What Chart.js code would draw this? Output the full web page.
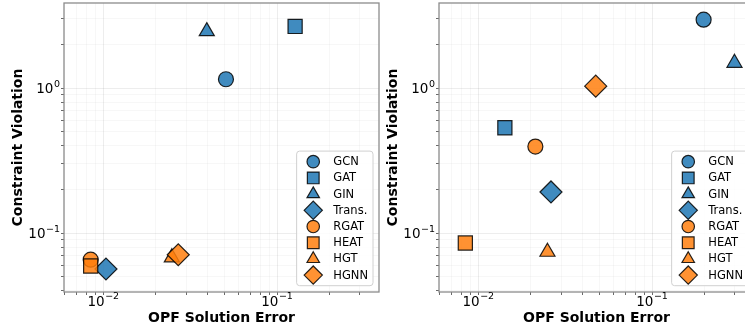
<!DOCTYPE html>
<html>
<head>
<meta charset="utf-8">
<script src="https://cdn.jsdelivr.net/npm/chart.js@4.4.1/dist/chart.umd.min.js"></script>
<style>
  html, body { margin: 0; padding: 0; background: #fff; overflow: hidden; }
  #wrap { position: relative; width: 745px; height: 333px; overflow: hidden; }
  canvas { position: absolute; top: 0; }
  #left { left: 0; }
  #right { left: 375px; }
</style>
</head>
<body>
<div id="wrap">
  <canvas id="left" width="380" height="333"></canvas>
  <canvas id="right" width="380" height="333"></canvas>
</div>
<script>
// model names, one per marker
const models = ['GCN', 'GAT', 'GIN', 'Trans.', 'RGAT', 'HEAT', 'HGT', 'HGNN'];

// left panel: OPF solution error vs constraint violation
const leftError = [0.0508, 0.127, 0.0394, 0.01036, 0.00846, 0.00846, 0.0248, 0.0270];
const leftViolation = [1.15, 2.66, 2.46, 0.0565, 0.0655, 0.0592, 0.0678, 0.0708];

// right panel
const rightError = [0.198, 0.01422, 0.298, 0.0262, 0.0213, 0.00842, 0.0250, 0.0474];
const rightViolation = [2.96, 0.532, 1.49, 0.192, 0.395, 0.0853, 0.0741, 1.03];

// axis ticks (base 10, labelled by exponent)
const xTickValues = [0.01, 0.1];
const xTickExponents = ['\u22122', '\u22121'];
const yTickValues = [0.1, 1];
const yTickExponents = ['\u22121', '0'];

// styles
const blue = 'rgba(31, 119, 180, 0.85)';
const orange = 'rgba(255, 127, 14, 0.85)';
const colors = [blue, blue, blue, blue, orange, orange, orange, orange];
const shapes = ['circle', 'rect', 'triangle', 'rectRot', 'circle', 'rect', 'triangle', 'rectRot'];
const sizes = { circle: 7.5, rect: 10, triangle: 8.7, rectRot: 11 };
const edge = 'rgba(0, 0, 0, 0.85)';

const xRange = [0.00594, 0.386];
const yRange = [0.0392, 3.86];

const tickFont = '"DejaVu Sans"';
const baseSize = 13.5;
const expSize = 9.5;

function logTicks(min, max) {
  const out = [];
  for (let k = Math.floor(Math.log10(min)); k <= Math.ceil(Math.log10(max)); k++) {
    for (let m = 1; m <= 9; m++) {
      const v = m * Math.pow(10, k);
      if (v >= min && v <= max) out.push(v);
    }
  }
  return out;
}

function isMajor(value) {
  const l = Math.log10(value);
  return Math.abs(l - Math.round(l)) < 1e-6;
}

const framePlugin = {
  id: 'frame',
  beforeDatasetsDraw(chart) {
    const a = chart.chartArea;
    const ctx = chart.ctx;
    ctx.save();
    ctx.strokeStyle = '#8c8c8c';
    ctx.lineWidth = 1.3;
    ctx.strokeRect(a.left, a.top, a.right - a.left, a.bottom - a.top);
    ctx.restore();
  }
};

// draws "10" with a raised exponent, like a power-of-ten tick label
function powerLabel(ctx, exp, x, y, align) {
  ctx.font = baseSize + 'px ' + tickFont;
  const wBase = ctx.measureText('10').width;
  ctx.font = expSize + 'px ' + tickFont;
  const wExp = ctx.measureText(exp).width;
  const total = wBase + 0.5 + wExp;
  let start = x;
  if (align === 'center') start = x - total / 2;
  if (align === 'right') start = x - total;
  ctx.fillStyle = '#000';
  ctx.textAlign = 'left';
  ctx.textBaseline = 'alphabetic';
  ctx.font = baseSize + 'px ' + tickFont;
  ctx.fillText('10', start, y);
  ctx.font = expSize + 'px ' + tickFont;
  ctx.fillText(exp, start + wBase + 0.5, y - 6.2);
}

const powerTicks = {
  id: 'powerTicks',
  afterDraw(chart) {
    const ctx = chart.ctx;
    const a = chart.chartArea;
    const xs = chart.scales.x;
    const ys = chart.scales.y;
    ctx.save();
    for (let i = 0; i < xTickValues.length; i++) {
      powerLabel(ctx, xTickExponents[i], xs.getPixelForValue(xTickValues[i]), a.bottom + 13.5, 'center');
    }
    for (let i = 0; i < yTickValues.length; i++) {
      powerLabel(ctx, yTickExponents[i], a.left - 4, ys.getPixelForValue(yTickValues[i]) + 5.4, 'right');
    }
    ctx.restore();
  }
};

const boxLegend = {
  id: 'boxLegend',
  afterDatasetsDraw(chart) {
    const a = chart.chartArea;
    const ctx = chart.ctx;
    const rowH = 16.2;
    const font = '11.5px "DejaVu Sans"';
    ctx.save();
    ctx.font = font;
    let maxW = 0;
    for (let i = 0; i < models.length; i++) {
      maxW = Math.max(maxW, ctx.measureText(models[i]).width);
    }
    const w = 16.6 + 20 + maxW + 5;
    const h = models.length * rowH + 5;
    const right = a.right - 6;
    const bottom = a.bottom - 6.3;
    const left = right - w;
    const top = bottom - h;

    ctx.beginPath();
    ctx.roundRect(left, top, w, h, 3);
    ctx.fillStyle = 'rgba(255, 255, 255, 0.8)';
    ctx.fill();
    ctx.strokeStyle = '#d0d0d0';
    ctx.lineWidth = 1;
    ctx.stroke();

    for (let i = 0; i < models.length; i++) {
      const cy = top + 2.5 + rowH * (i + 0.5);
      const cx = left + 16.6;
      ctx.fillStyle = colors[i];
      ctx.strokeStyle = edge;
      ctx.lineWidth = 1.2;
      Chart.helpers.drawPoint(ctx, {
        pointStyle: shapes[i],
        radius: sizes[shapes[i]] * 0.83,
        rotation: 0,
        borderWidth: 1.2
      }, cx, cy);
      ctx.fillStyle = '#000';
      ctx.font = font;
      ctx.textAlign = 'left';
      ctx.textBaseline = 'middle';
      ctx.fillText(models[i], cx + 20, cy + 0.5);
    }
    ctx.restore();
  }
};

function noPadding(scale) {
  scale.paddingTop = 0;
  scale.paddingBottom = 0;
  scale.paddingLeft = 0;
  scale.paddingRight = 0;
}

function makeChart(id, errors, violations) {
  const datasets = [];
  for (let i = 0; i < models.length; i++) {
    datasets.push({
      label: models[i],
      data: [{ x: errors[i], y: violations[i] }],
      pointStyle: shapes[i],
      pointRadius: sizes[shapes[i]],
      backgroundColor: colors[i],
      borderColor: edge,
      borderWidth: 1.2,
      order: models.length - i
    });
  }

  const gridColor = function (ctx) {
    return ctx.tick && isMajor(ctx.tick.value) ? 'rgba(0, 0, 0, 0.09)' : 'rgba(0, 0, 0, 0.045)';
  };

  return new Chart(document.getElementById(id), {
    type: 'scatter',
    data: { datasets: datasets },
    plugins: [framePlugin, boxLegend, powerTicks],
    options: {
      responsive: false,
      animation: false,
      events: [],
      layout: { autoPadding: false, padding: { top: 3, right: 1, left: 0, bottom: 0 } },
      plugins: {
        legend: { display: false },
        tooltip: { enabled: false }
      },
      scales: {
        x: {
          type: 'logarithmic',
          min: xRange[0],
          max: xRange[1],
          afterBuildTicks: function (scale) {
            scale.ticks = logTicks(xRange[0], xRange[1]).map(function (v) { return { value: v }; });
          },
          afterFit: function (scale) { scale.height = 41; noPadding(scale); },
          border: { display: false },
          grid: { color: gridColor, lineWidth: 0.8, tickColor: '#444', tickLength: 3 },
          ticks: {
            autoSkip: false,
            maxRotation: 0,
            callback: function () { return ''; }
          },
          title: {
            display: true,
            text: 'OPF Solution Error',
            color: '#000',
            font: { family: 'DejaVu Sans', size: 14, weight: 'bold' },
            padding: { top: 0, bottom: 6 }
          }
        },
        y: {
          type: 'logarithmic',
          min: yRange[0],
          max: yRange[1],
          afterBuildTicks: function (scale) {
            scale.ticks = logTicks(yRange[0], yRange[1]).map(function (v) { return { value: v }; });
          },
          afterFit: function (scale) { scale.width = 64; noPadding(scale); },
          border: { display: false },
          grid: { color: gridColor, lineWidth: 0.8, tickColor: '#444', tickLength: 3 },
          ticks: {
            autoSkip: false,
            callback: function () { return ''; }
          },
          title: {
            display: true,
            text: 'Constraint Violation',
            color: '#000',
            font: { family: 'DejaVu Sans', size: 14, weight: 'bold' },
            padding: { top: 10, bottom: 0 }
          }
        }
      }
    }
  });
}

makeChart('left', leftError, leftViolation);
makeChart('right', rightError, rightViolation);
</script>
</body>
</html>
